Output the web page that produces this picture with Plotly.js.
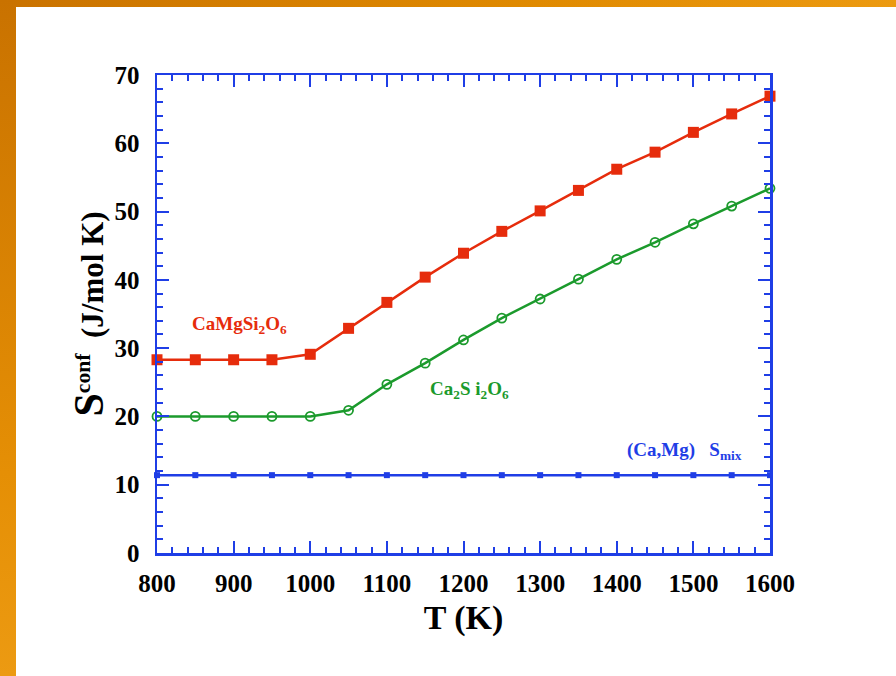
<!DOCTYPE html>
<html>
<head>
<meta charset="utf-8">
<script src="https://cdn.plot.ly/plotly-3.0.1.min.js"></script>
<style>
  html, body { margin: 0; padding: 0; background: #ffffff; }
  #wrap { position: relative; width: 896px; height: 676px; overflow: hidden; background: #ffffff; }
  #topbar { position: absolute; left: 0; top: 0; width: 896px; height: 7px;
            background: linear-gradient(to right, #c97200, #e08a00 60%, #ec9a10); z-index: 2; }
  #leftbar { position: absolute; left: 0; top: 0; width: 16px; height: 676px;
             background: linear-gradient(to bottom, #c97200, #e58f05 70%, #ec9a12); z-index: 2; }
  #chart { position: absolute; left: 0; top: 0; width: 896px; height: 676px; }
</style>
</head>
<body>
<div id="wrap">
  <div id="chart"></div>
  <div id="topbar"></div>
  <div id="leftbar"></div>
</div>
<script>
const temperature = [800, 850, 900, 950, 1000, 1050, 1100, 1150, 1200, 1250, 1300, 1350, 1400, 1450, 1500, 1550, 1600];
const caMgSi2O6 = [28.3, 28.3, 28.3, 28.3, 29.1, 32.9, 36.7, 40.4, 43.9, 47.1, 50.1, 53.1, 56.2, 58.7, 61.6, 64.3, 66.9];
const ca2Si2O6 = [20.0, 20.0, 20.0, 20.0, 20.0, 20.9, 24.7, 27.8, 31.2, 34.4, 37.2, 40.1, 43.0, 45.5, 48.2, 50.8, 53.4];
const caMgSmix = [11.4, 11.4, 11.4, 11.4, 11.4, 11.4, 11.4, 11.4, 11.4, 11.4, 11.4, 11.4, 11.4, 11.4, 11.4, 11.4, 11.4];
const xTicks = [800, 900, 1000, 1100, 1200, 1300, 1400, 1500, 1600];
const yTicks = [0, 10, 20, 30, 40, 50, 60, 70];

const RED = '#e62c0c', GREEN = '#1b9a2c', BLUE = '#1f3ee6';
const serif = 'Liberation Serif, Times New Roman, serif';

const traces = [
  { x: temperature, y: caMgSmix, mode: 'lines+markers', cliponaxis: false,
    line: { color: BLUE, width: 2.5 },
    marker: { symbol: 'square', size: 6, color: BLUE } },
  { x: temperature, y: ca2Si2O6, mode: 'lines+markers', cliponaxis: false,
    line: { color: GREEN, width: 2.5 },
    marker: { symbol: 'circle-open', size: 9, color: GREEN, line: { width: 1.8, color: GREEN } } },
  { x: temperature, y: caMgSi2O6, mode: 'lines+markers', cliponaxis: false,
    line: { color: RED, width: 2.5 },
    marker: { symbol: 'square', size: 11, color: RED } }
];

const axisCommon = {
  showgrid: false, zeroline: false, showline: true, linecolor: BLUE, linewidth: 2.5,
  mirror: 'allticks', ticks: 'inside', tickcolor: BLUE, tickwidth: 2, ticklen: 12,
  minor: { ticks: 'inside', ticklen: 6, tickwidth: 2, tickcolor: BLUE }
};

const layout = {
  width: 896, height: 676,
  margin: { l: 157, r: 126, t: 75, b: 123 },
  paper_bgcolor: '#ffffff', plot_bgcolor: '#ffffff',
  showlegend: false,
  xaxis: Object.assign({}, axisCommon, {
    range: [800, 1600], tickvals: xTicks, ticktext: xTicks.map(String),
    minor: Object.assign({}, axisCommon.minor, { dtick: 20, tick0: 800 }),
    tickfont: { family: serif, size: 25, color: '#000', weight: 'bold' },
    ticklabelstandoff: 6,
    title: { text: 'T (K)', font: { family: serif, size: 34, color: '#000', weight: 'bold' }, standoff: 10 }
  }),
  yaxis: Object.assign({}, axisCommon, {
    range: [0, 70], tickvals: yTicks, ticktext: yTicks.map(String),
    minor: Object.assign({}, axisCommon.minor, { dtick: 2, tick0: 0 }),
    tickfont: { family: serif, size: 25, color: '#000', weight: 'bold' },
    ticklabelstandoff: 10,
    title: { text: '<span style="font-size:42px">S</span><sup>conf</sup>  (J/mol K)',
             font: { family: serif, size: 31, color: '#000', weight: 'bold' }, standoff: 2 }
  }),
  annotations: [
    { x: 908, y: 33.4, xref: 'x', yref: 'y', showarrow: false,
      text: 'CaMgSi<sub>2</sub>O<sub>6</sub>',
      font: { family: serif, size: 19, color: RED, weight: 'bold' } },
    { x: 1208, y: 23.8, xref: 'x', yref: 'y', showarrow: false,
      text: 'Ca<sub>2</sub>S i<sub>2</sub>O<sub>6</sub>',
      font: { family: serif, size: 19, color: GREEN, weight: 'bold' } },
    { x: 1488, y: 15.0, xref: 'x', yref: 'y', showarrow: false,
      text: '(Ca,Mg)   S<sub>mix</sub>',
      font: { family: serif, size: 19, color: BLUE, weight: 'bold' } }
  ]
};

Plotly.newPlot('chart', traces, layout, { displayModeBar: false, staticPlot: true });
</script>
</body>
</html>
